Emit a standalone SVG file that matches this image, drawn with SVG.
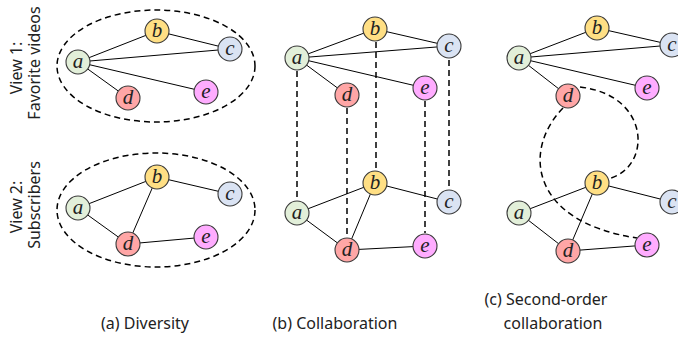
<svg xmlns="http://www.w3.org/2000/svg" width="678" height="341" viewBox="0 0 678 341">
<style>
.n circle{stroke:#3a3a3a;stroke-width:1.1}
.n text{font-family:"Liberation Serif","DejaVu Serif",serif;font-style:italic;font-size:21px;text-anchor:middle;fill:#222}
.e line{stroke:#000;stroke-width:1}
.dash{fill:none;stroke:#000;stroke-width:1.5;stroke-dasharray:6,4}
.lbl{font-family:"Noto Sans","Open Sans",sans-serif;font-size:16px;fill:#222;text-anchor:middle}
.A{fill:#e2efd9}.B{fill:#ffdf84}.C{fill:#dae3f3}.D{fill:#ffa6a6}.E{fill:#ffacff}
</style>
<rect width="678" height="341" fill="#fff"/>
<g id="view-labels">
<text class="lbl" transform="translate(22,68) rotate(-90)">View 1:</text>
<text class="lbl" transform="translate(40,63) rotate(-90)">Favorite videos</text>
<text class="lbl" transform="translate(22,207) rotate(-90)">View 2:</text>
<text class="lbl" transform="translate(40,205) rotate(-90)">Subscribers</text>
</g>
<g id="dashed-connectors">
<ellipse class="dash" cx="156" cy="66" rx="99" ry="56"/>
<ellipse class="dash" cx="156" cy="210" rx="99" ry="57"/>
<line class="dash" x1="297" y1="71" x2="297" y2="199"/>
<line class="dash" x1="347" y1="108" x2="347" y2="237"/>
<line class="dash" x1="376" y1="42" x2="376" y2="170"/>
<line class="dash" x1="449" y1="60" x2="449" y2="189"/>
<line class="dash" x1="425" y1="101" x2="425" y2="233"/>
<path class="dash" d="M580,87 C650,95 652,165 611,178"/>
<path class="dash" d="M563,108 C522,150 530,222 637,238"/>
</g>
<g id="connectors" class="e">
<line x1="78" y1="62" x2="157" y2="31"/><line x1="78" y1="62" x2="230" y2="49"/><line x1="78" y1="62" x2="128" y2="98"/><line x1="78" y1="62" x2="206" y2="92"/><line x1="157" y1="31" x2="230" y2="49"/>
<line x1="78" y1="208" x2="157" y2="177"/><line x1="78" y1="208" x2="128" y2="244"/><line x1="157" y1="177" x2="128" y2="244"/><line x1="157" y1="177" x2="230" y2="194"/><line x1="128" y1="244" x2="206" y2="237"/>
<line x1="297" y1="58" x2="375" y2="29"/><line x1="297" y1="58" x2="449" y2="46"/><line x1="297" y1="58" x2="347" y2="95"/><line x1="297" y1="58" x2="425" y2="88"/><line x1="375" y1="29" x2="449" y2="46"/>
<line x1="297" y1="213" x2="375" y2="183"/><line x1="297" y1="213" x2="347" y2="250"/><line x1="375" y1="183" x2="347" y2="250"/><line x1="375" y1="183" x2="449" y2="202"/><line x1="347" y1="250" x2="425" y2="246"/>
<line x1="519" y1="58" x2="597" y2="28"/><line x1="519" y1="58" x2="672" y2="45"/><line x1="519" y1="58" x2="568" y2="96"/><line x1="519" y1="58" x2="647" y2="88"/><line x1="597" y1="28" x2="672" y2="45"/>
<line x1="519" y1="213" x2="597" y2="183"/><line x1="519" y1="213" x2="568" y2="251"/><line x1="597" y1="183" x2="568" y2="251"/><line x1="597" y1="183" x2="672" y2="202"/><line x1="568" y1="251" x2="647" y2="245"/>
</g>
<g id="a1a" class="n"><circle class="A" cx="78" cy="62" r="12"/><text x="78" y="68">a</text></g>
<g id="b1a" class="n"><circle class="B" cx="157" cy="31" r="12"/><text x="157" y="37">b</text></g>
<g id="c1a" class="n"><circle class="C" cx="230" cy="49" r="12"/><text x="230" y="55">c</text></g>
<g id="d1a" class="n"><circle class="D" cx="128" cy="98" r="12"/><text x="128" y="104">d</text></g>
<g id="e1a" class="n"><circle class="E" cx="206" cy="92" r="12"/><text x="206" y="98">e</text></g>
<g id="a2a" class="n"><circle class="A" cx="78" cy="208" r="12"/><text x="78" y="214">a</text></g>
<g id="b2a" class="n"><circle class="B" cx="157" cy="177" r="12"/><text x="157" y="183">b</text></g>
<g id="c2a" class="n"><circle class="C" cx="230" cy="194" r="12"/><text x="230" y="200">c</text></g>
<g id="d2a" class="n"><circle class="D" cx="128" cy="244" r="12"/><text x="128" y="250">d</text></g>
<g id="e2a" class="n"><circle class="E" cx="206" cy="237" r="12"/><text x="206" y="243">e</text></g>
<g id="a1b" class="n"><circle class="A" cx="297" cy="58" r="12"/><text x="297" y="64">a</text></g>
<g id="b1b" class="n"><circle class="B" cx="375" cy="29" r="12"/><text x="375" y="35">b</text></g>
<g id="c1b" class="n"><circle class="C" cx="449" cy="46" r="12"/><text x="449" y="52">c</text></g>
<g id="d1b" class="n"><circle class="D" cx="347" cy="95" r="12"/><text x="347" y="101">d</text></g>
<g id="e1b" class="n"><circle class="E" cx="425" cy="88" r="12"/><text x="425" y="94">e</text></g>
<g id="a2b" class="n"><circle class="A" cx="297" cy="213" r="12"/><text x="297" y="219">a</text></g>
<g id="b2b" class="n"><circle class="B" cx="375" cy="183" r="12"/><text x="375" y="189">b</text></g>
<g id="c2b" class="n"><circle class="C" cx="449" cy="202" r="12"/><text x="449" y="208">c</text></g>
<g id="d2b" class="n"><circle class="D" cx="347" cy="250" r="12"/><text x="347" y="256">d</text></g>
<g id="e2b" class="n"><circle class="E" cx="425" cy="246" r="12"/><text x="425" y="252">e</text></g>
<g id="a1c" class="n"><circle class="A" cx="519" cy="58" r="12"/><text x="519" y="64">a</text></g>
<g id="b1c" class="n"><circle class="B" cx="597" cy="28" r="12"/><text x="597" y="34">b</text></g>
<g id="c1c" class="n"><circle class="C" cx="672" cy="45" r="12"/><text x="672" y="51">c</text></g>
<g id="d1c" class="n"><circle class="D" cx="568" cy="96" r="12"/><text x="568" y="102">d</text></g>
<g id="e1c" class="n"><circle class="E" cx="647" cy="88" r="12"/><text x="647" y="94">e</text></g>
<g id="a2c" class="n"><circle class="A" cx="519" cy="213" r="12"/><text x="519" y="219">a</text></g>
<g id="b2c" class="n"><circle class="B" cx="597" cy="183" r="12"/><text x="597" y="189">b</text></g>
<g id="c2c" class="n"><circle class="C" cx="672" cy="202" r="12"/><text x="672" y="208">c</text></g>
<g id="d2c" class="n"><circle class="D" cx="568" cy="251" r="12"/><text x="568" y="257">d</text></g>
<g id="e2c" class="n"><circle class="E" cx="647" cy="245" r="12"/><text x="647" y="251">e</text></g>
<g id="captions">
<text class="lbl" x="145" y="329">(a) Diversity</text>
<text class="lbl" x="335" y="329">(b) Collaboration</text>
<text class="lbl" x="546" y="305">(c) Second-order</text>
<text class="lbl" x="553" y="329">collaboration</text>
</g>
</svg>
